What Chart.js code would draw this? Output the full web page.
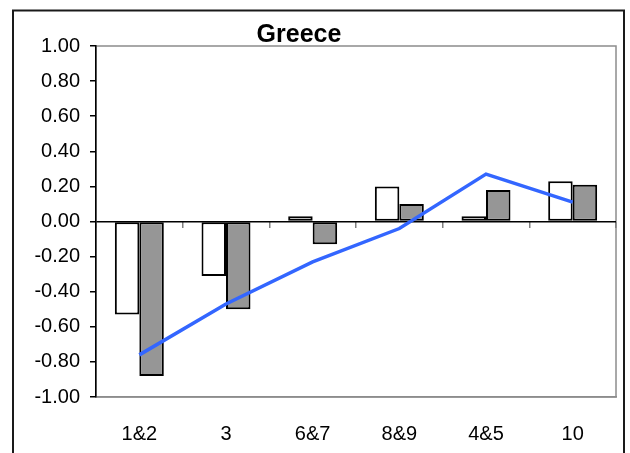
<!DOCTYPE html>
<html>
<head>
<meta charset="utf-8">
<script src="https://cdn.jsdelivr.net/npm/chart.js@4.4.1/dist/chart.umd.min.js"></script>
<style>
  html, body { margin: 0; padding: 0; background: #fff; }
  #wrap { width: 630px; height: 453px; }
</style>
</head>
<body>
<div id="wrap"><canvas id="greece" width="630" height="453"></canvas></div>
<script>
const categories = ['1&2', '3', '6&7', '8&9', '4&5', '10'];
const whiteBars = [-0.53, -0.31, 0.03, 0.20, 0.03, 0.23];
const greyBars = [-0.88, -0.50, -0.13, 0.10, 0.18, 0.21];
const blueLine = [-0.76, -0.47, -0.23, -0.04, 0.27, 0.11];
const yTicks = [-1, -0.8, -0.6, -0.4, -0.2, 0, 0.2, 0.4, 0.6, 0.8, 1];

const FONT = "'Liberation Sans', Arial, sans-serif";

// outer frame, grey plot box and the title
const frame = {
  id: 'frame',
  beforeDraw(chart) {
    const { ctx, chartArea: a } = chart;
    ctx.save();
    ctx.strokeStyle = '#1a1a1a';
    ctx.lineWidth = 2;
    ctx.beginPath();
    ctx.moveTo(13, 460);
    ctx.lineTo(13, 10.5);
    ctx.lineTo(624, 10.5);
    ctx.lineTo(624, 460);
    ctx.stroke();
    ctx.strokeStyle = '#8c8c8c';
    ctx.lineWidth = 1.5;
    ctx.strokeRect(a.left, a.top, a.right - a.left, a.bottom - a.top);
    ctx.restore();
  },
  afterDraw(chart) {
    const ctx = chart.ctx;
    ctx.save();
    ctx.fillStyle = '#000';
    ctx.font = 'bold 25px ' + FONT;
    ctx.textAlign = 'center';
    ctx.textBaseline = 'alphabetic';
    ctx.fillText('Greece', 299, 42);
    ctx.restore();
  }
};

new Chart(document.getElementById('greece'), {
  type: 'bar',
  data: {
    labels: categories,
    datasets: [
      {
        type: 'line',
        data: blueLine,
        borderColor: '#3366ff',
        borderWidth: 3.5,
        pointRadius: 0,
        tension: 0,
        order: 0
      },
      {
        data: whiteBars,
        backgroundColor: '#ffffff',
        borderColor: '#000000',
        borderWidth: 2,
        borderSkipped: false,
        order: 1
      },
      {
        data: greyBars,
        backgroundColor: '#969696',
        borderColor: '#000000',
        borderWidth: 2,
        borderSkipped: false,
        order: 1
      }
    ]
  },
  options: {
    responsive: false,
    animation: false,
    devicePixelRatio: 1,
    layout: { padding: { top: 46, right: 14, left: 0, bottom: 0 } },
    datasets: {
      bar: { barPercentage: 1, categoryPercentage: 0.565 }
    },
    plugins: {
      legend: { display: false },
      tooltip: { enabled: false },
      title: { display: false }
    },
    scales: {
      x: {
        grid: { display: false },
        border: { display: true, color: '#8c8c8c', width: 1.5 },
        ticks: { color: '#000', font: { family: FONT, size: 20 }, padding: 17, maxRotation: 0 },
        afterFit: (s) => { s.height = 56; }
      },
      x0: {
        type: 'category',
        labels: categories,
        position: { y: 0 },
        offset: true,
        grid: { offset: true, drawOnChartArea: false, drawTicks: true, tickLength: 6, color: '#808080', lineWidth: 1.5 },
        border: { display: false },
        ticks: { display: false }
      },
      y: {
        min: -1,
        max: 1,
        afterBuildTicks: (s) => { s.ticks = yTicks.map(v => ({ value: v })); },
        grid: {
          color: (c) => c.tick && c.tick.value === 0 ? '#000' : 'rgba(0,0,0,0)',
          tickColor: '#000',
          tickLength: 6,
          lineWidth: 1.5
        },
        border: { display: true, color: '#000', width: 1.5 },
        ticks: {
          color: '#000',
          padding: 10,
          font: { family: FONT, size: 20 },
          callback: (v) => Number(v).toFixed(2)
        },
        afterFit: (s) => { s.width = 96; }
      }
    }
  },
  plugins: [frame]
});
</script>
</body>
</html>
